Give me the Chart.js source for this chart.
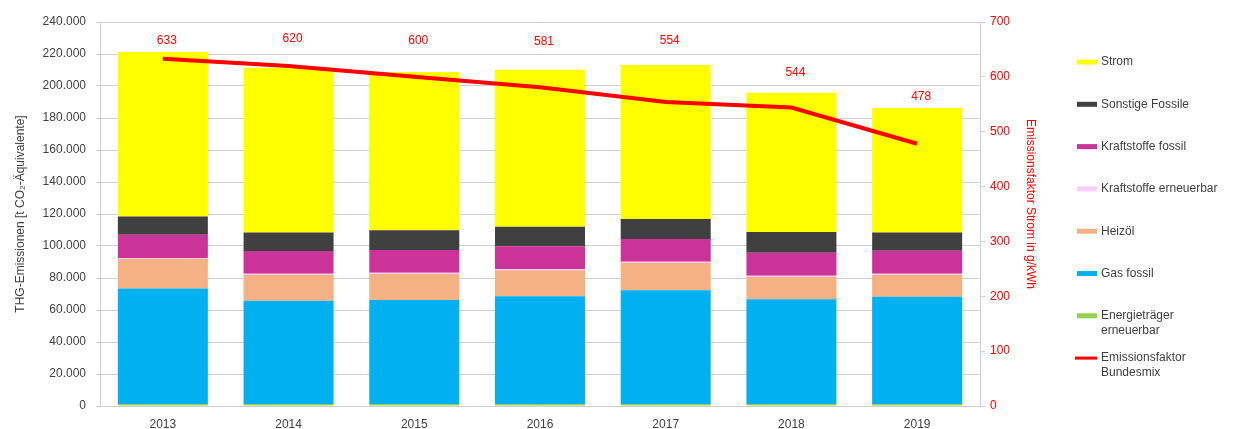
<!DOCTYPE html>
<html>
<head>
<meta charset="utf-8">
<script src="https://cdn.jsdelivr.net/npm/chart.js@4.4.1/dist/chart.umd.min.js"></script>
<style>
  html, body { margin: 0; padding: 0; background: #fff; }
  #wrap { width: 1236px; height: 429px; position: relative; }
</style>
</head>
<body>
<div id="wrap"><canvas id="myChart" width="1236" height="429"></canvas></div>
<script>
// data
const years = ['2013', '2014', '2015', '2016', '2017', '2018', '2019'];
const energietraegerErn = [1200, 1200, 1200, 1200, 1200, 1200, 1200];
const gasFossil = [72300, 64600, 65050, 67360, 71100, 65500, 67100];
const heizoel = [18400, 16300, 16250, 16240, 17300, 14100, 13800];
const kraftstoffeErn = [600, 600, 800, 600, 600, 600, 600];
const kraftstoffeFossil = [14600, 14200, 14200, 14400, 14200, 14400, 14400];
const sonstigeFossile = [11400, 11600, 12300, 12300, 12500, 12950, 11400];
const strom = [102750, 102900, 98950, 98100, 96200, 87050, 77750];
const emissionsfaktor = [633, 620, 600, 581, 554, 544, 478];

const leftTicksMax = 240000;
const rightTicksMax = 700;

function fmt(v) {
  return String(v).replace(/\B(?=(\d{3})+(?!\d))/g, '.');
}

const textGrey = '#404040';
const gridGrey = '#d0d0d0';
const font12 = '12px "Liberation Sans", Arial, sans-serif';

// labels above the red line (pixel lift, hand placed like in the original)
const labelLift = [18, 27, 36, 46, 61, 35, 47];

const lineLabels = {
  id: 'lineLabels',
  afterDatasetsDraw(chart) {
    const ctx = chart.ctx;
    const meta = chart.getDatasetMeta(7);
    ctx.save();
    ctx.font = font12;
    ctx.fillStyle = '#ff0000';
    ctx.textAlign = 'center';
    ctx.textBaseline = 'middle';
    meta.data.forEach((pt, i) => {
      ctx.fillText(String(emissionsfaktor[i]), pt.x + 4, pt.y - labelLift[i]);
    });
    // right axis title, sits a bit above the middle in the original
    ctx.translate(1030, 204);
    ctx.rotate(Math.PI / 2);
    ctx.fillText('Emissionsfaktor Strom in g/kWh', 0, 0);
    ctx.restore();
  }
};

const sideLegend = {
  id: 'sideLegend',
  afterDraw(chart) {
    const ctx = chart.ctx;
    const order = [6, 5, 4, 3, 2, 1, 0, 7];
    let y = 62;
    ctx.save();
    ctx.font = font12;
    ctx.textBaseline = 'middle';
    order.forEach(idx => {
      const ds = chart.data.datasets[idx];
      if (ds.type === 'line') {
        ctx.fillStyle = ds.borderColor;
        ctx.fillRect(1075, y - 1.5, 22, 3);
      } else {
        ctx.fillStyle = ds.backgroundColor;
        ctx.fillRect(1077, y - 2.5, 20, 5);
      }
      ctx.fillStyle = textGrey;
      ds.label.split('\n').forEach((ln, k) => {
        ctx.fillText(ln, 1101, y + k * 15);
      });
      y += 42.3;
    });
    ctx.restore();
  }
};

function barSet(label, data, color) {
  return {
    type: 'bar',
    label: label,
    data: data,
    backgroundColor: color,
    borderWidth: 0,
    yAxisID: 'y',
    order: 1,
    categoryPercentage: 1,
    barPercentage: 0.716
  };
}

const ctx = document.getElementById('myChart');

new Chart(ctx, {
  data: {
    labels: years,
    datasets: [
      barSet('Energieträger\nerneuerbar', energietraegerErn, '#92d050'),
      barSet('Gas fossil', gasFossil, '#00b0f0'),
      barSet('Heizöl', heizoel, '#f4b183'),
      barSet('Kraftstoffe erneuerbar', kraftstoffeErn, '#ffccff'),
      barSet('Kraftstoffe fossil', kraftstoffeFossil, '#cc3399'),
      barSet('Sonstige Fossile', sonstigeFossile, '#404040'),
      barSet('Strom', strom, '#ffff00'),
      {
        type: 'line',
        label: 'Emissionsfaktor\nBundesmix',
        data: emissionsfaktor,
        borderColor: '#ff0000',
        borderWidth: 4,
        pointRadius: 0,
        tension: 0,
        yAxisID: 'y1',
        order: 0
      }
    ]
  },
  options: {
    responsive: false,
    animation: false,
    devicePixelRatio: 1,
    layout: { padding: { top: 22, right: 196, bottom: 0, left: 0 } },
    plugins: {
      legend: { display: false },
      tooltip: { enabled: false }
    },
    scales: {
      x: {
        stacked: true,
        grid: { display: false },
        border: { color: gridGrey },
        ticks: {
          color: textGrey,
          font: { family: '"Liberation Sans", Arial, sans-serif', size: 12 },
          padding: 3
        },
        afterFit(scale) { scale.height = 23; }
      },
      y: {
        stacked: true,
        min: 0,
        max: leftTicksMax,
        grid: { color: gridGrey, tickLength: 4 },
        border: { color: gridGrey },
        ticks: {
          stepSize: 20000,
          color: textGrey,
          padding: 10,
          font: { family: '"Liberation Sans", Arial, sans-serif', size: 12 },
          callback: v => fmt(v)
        },
        title: {
          display: true,
          text: 'THG-Emissionen [t CO₂-Äquivalente]',
          color: textGrey,
          font: { family: '"Liberation Sans", Arial, sans-serif', size: 12 },
          padding: { top: 13, bottom: 0 }
        },
        afterFit(scale) { scale.width = 100; }
      },
      y1: {
        position: 'right',
        min: 0,
        max: rightTicksMax,
        grid: { drawOnChartArea: false, color: gridGrey, tickLength: 5 },
        border: { color: gridGrey },
        ticks: {
          stepSize: 100,
          color: '#ff0000',
          padding: 5,
          font: { family: '"Liberation Sans", Arial, sans-serif', size: 12 }
        },
        afterFit(scale) { scale.width = 60; }
      }
    }
  },
  plugins: [lineLabels, sideLegend]
});
</script>
</body>
</html>
